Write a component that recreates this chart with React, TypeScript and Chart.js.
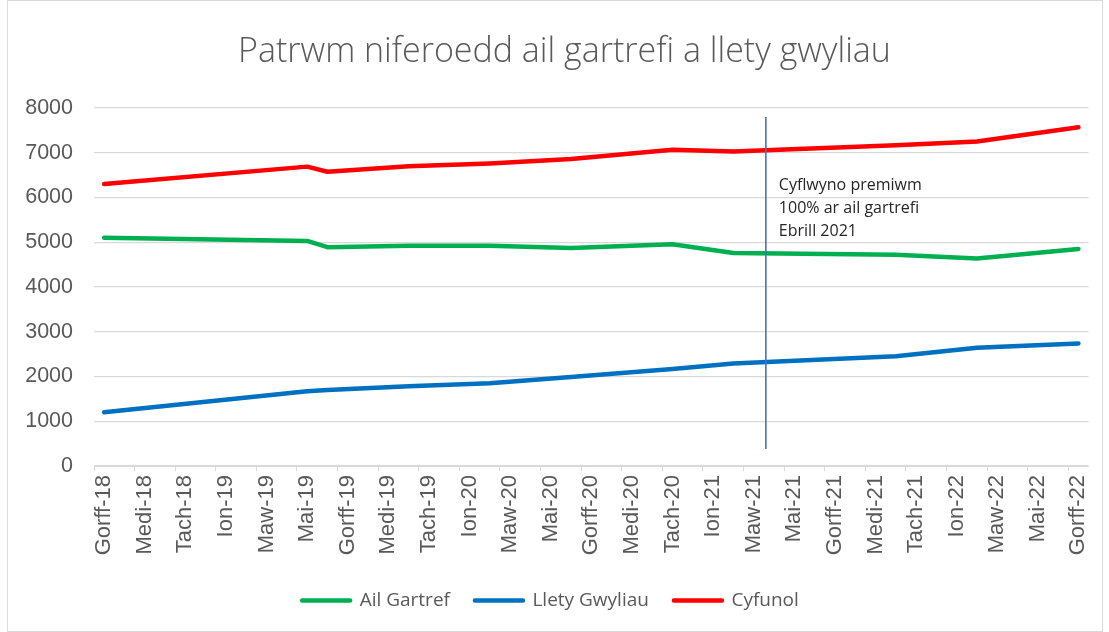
import React, { useEffect, useRef } from 'react';
import { Chart, registerables } from 'chart.js';

Chart.register(...registerables);

// Welsh month abbreviations (Jan..Dec)
const MONTH_NAMES = ['Ion', 'Chwef', 'Maw', 'Ebr', 'Mai', 'Meh', 'Gorff', 'Awst', 'Medi', 'Hyd', 'Tach', 'Rhag'];
const START_YEAR = 2018;
const START_MONTH = 6; // Gorff (July)
const MONTH_COUNT = 49; // Gorff-18 .. Gorff-22

// monthly category axis
const CATEGORIES: string[] = Array.from({ length: MONTH_COUNT }, (_, i) => {
  const m = (START_MONTH + i) % 12;
  const y = START_YEAR + Math.floor((START_MONTH + i) / 12);
  return `${MONTH_NAMES[m]}-${String(y).slice(2)}`;
});

// observation dates
const POINT_DATES = ['Gorff-18', 'Mai-19', 'Meh-19', 'Hyd-19', 'Chwef-20', 'Meh-20', 'Tach-20', 'Chwef-21', 'Hyd-21', 'Chwef-22', 'Gorff-22'];
const AIL_GARTREF = [5100, 5030, 4890, 4920, 4920, 4870, 4955, 4760, 4720, 4635, 4850];
const LLETY_GWYLIAU = [1200, 1670, 1700, 1780, 1850, 1990, 2165, 2290, 2450, 2640, 2740];
const CYFUNOL = [6300, 6690, 6575, 6700, 6760, 6860, 7065, 7030, 7170, 7250, 7570];

const SERIES_NAMES = ['Ail Gartref', 'Llety Gwyliau', 'Cyfunol'];
const SERIES_COLORS = ['#00B050', '#0070C0', '#FF0000'];

const TITLE = 'Patrwm niferoedd ail gartrefi a llety gwyliau';

// annotation: introduction of premium, April 2021
const ANNOT_X = 32.6; // category index position
const ANNOT_Y_TOP = 7800;
const ANNOT_Y_BOTTOM = 380;
const ANNOT_TEXT_Y = 6260;
const ANNOT_LINES = ['Cyflwyno premiwm', '100% ar ail gartrefi', 'Ebrill 2021'];

const FONT = "'Open Sans', 'Noto Sans', sans-serif";
const AXIS_FONT = "'Liberation Sans', Arial, sans-serif";
const TEXT_COLOR = '#595959';
const GRID_COLOR = '#d9d9d9';

const titlePlugin = {
  id: 'offsetTitle',
  afterDraw(chart: any) {
    const { ctx, width } = chart;
    ctx.save();
    ctx.fillStyle = TEXT_COLOR;
    ctx.font = `300 34px ${FONT}`;
    ctx.textAlign = 'center';
    ctx.textBaseline = 'middle';
    ctx.fillText(TITLE, width / 2 + 10, 52);
    ctx.restore();
  },
};

const annotationPlugin = {
  id: 'premiumAnnotation',
  afterDatasetsDraw(chart: any) {
    const { ctx, scales } = chart;
    const xs = scales.x;
    const ys = scales.y;
    const x = xs.getPixelForValue(ANNOT_X);
    ctx.save();
    ctx.strokeStyle = '#4472C4';
    ctx.lineWidth = 1.6;
    ctx.beginPath();
    ctx.moveTo(x, ys.getPixelForValue(ANNOT_Y_TOP));
    ctx.lineTo(x, ys.getPixelForValue(ANNOT_Y_BOTTOM));
    ctx.stroke();
    ctx.fillStyle = '#262626';
    ctx.font = `16px ${FONT}`;
    ctx.textBaseline = 'middle';
    ctx.textAlign = 'left';
    const y0 = ys.getPixelForValue(ANNOT_TEXT_Y);
    ANNOT_LINES.forEach((t, i) => ctx.fillText(t, x + 13, y0 + i * 22.7));
    ctx.restore();
  },
};

export default function App() {
  const ref = useRef<HTMLCanvasElement | null>(null);

  useEffect(() => {
    if (!ref.current) return;
    const seriesValues = [AIL_GARTREF, LLETY_GWYLIAU, CYFUNOL];
    const chart = new Chart(ref.current, {
      type: 'line',
      data: {
        labels: CATEGORIES,
        datasets: seriesValues.map((vals, si) => ({
          label: SERIES_NAMES[si],
          data: POINT_DATES.map((d, i) => ({ x: d, y: vals[i] })),
          borderColor: SERIES_COLORS[si],
          backgroundColor: SERIES_COLORS[si],
          borderWidth: 4.5,
          borderCapStyle: 'round',
          borderJoinStyle: 'round',
          pointRadius: 0,
          pointHoverRadius: 0,
          tension: 0,
          fill: false,
        })),
      },
      options: {
        animation: false,
        responsive: true,
        maintainAspectRatio: false,
        layout: { padding: { left: 8, right: 16, top: 108, bottom: 12 } },
        plugins: {
          title: { display: false },
          legend: {
            position: 'bottom',
            labels: {
              boxWidth: 48,
              boxHeight: 0,
              padding: 25,
              color: TEXT_COLOR,
              font: { family: FONT, size: 19 },
            },
          },
          tooltip: { enabled: false },
        },
        scales: {
          x: {
            type: 'category',
            offset: true,
            grid: {
              offset: true,
              drawOnChartArea: false,
              drawTicks: true,
              tickLength: 5,
              color: (c: any) => (c.index !== undefined && c.index % 2 === 0 ? GRID_COLOR : 'rgba(0,0,0,0)'),
            },
            border: { display: true, color: GRID_COLOR, width: 1 },
            ticks: {
              autoSkip: false,
              maxRotation: 90,
              minRotation: 90,
              padding: 4,
              color: TEXT_COLOR,
              font: { family: AXIS_FONT, size: 22 },
              callback: (_v: any, i: number) => (i % 2 === 0 ? CATEGORIES[i] : ''),
            },
            afterFit: (s: any) => {
              s.height = 100;
            },
          },
          y: {
            min: 0,
            max: 8000,
            grid: { color: GRID_COLOR, drawTicks: false, lineWidth: 1.2 },
            border: { display: false },
            ticks: {
              stepSize: 1000,
              padding: 21,
              color: TEXT_COLOR,
              font: { family: AXIS_FONT, size: 21.5 },
              callback: (v: any) => String(v),
            },
            afterFit: (s: any) => {
              s.width = 86;
            },
          },
        },
      },
      plugins: [annotationPlugin, titlePlugin],
    });
    return () => chart.destroy();
  }, []);

  return (
    <div style={{ position: 'fixed', left: 0, top: 0, width: 1109, height: 632, background: '#fff' }}>
      <div
        style={{
          position: 'absolute',
          left: 7,
          top: 0,
          width: 1094,
          height: 630,
          border: '1px solid #d9d9d9',
        }}
      />
      <div style={{ position: 'absolute', left: 0, top: 0, width: 1109, height: 632 }}>
        <canvas ref={ref} />
      </div>
    </div>
  );
}
